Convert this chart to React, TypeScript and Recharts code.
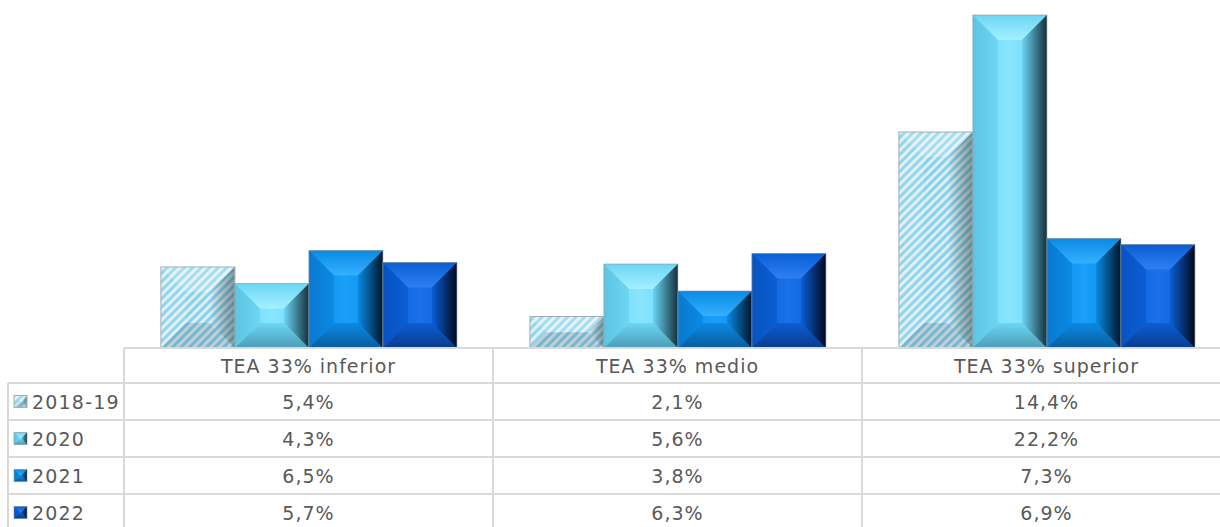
import React from 'react';
import { BarChart, Bar, XAxis, YAxis } from 'recharts';

const categories = ['TEA 33% inferior', 'TEA 33% medio', 'TEA 33% superior'];
const seriesNames = ['2018-19', '2020', '2021', '2022'];
const values2018 = [5.4, 2.1, 14.4];
const values2020 = [4.3, 5.6, 22.2];
const values2021 = [6.5, 3.8, 7.3];
const values2022 = [5.7, 6.3, 6.9];
const seriesValues = [values2018, values2020, values2021, values2022];

const data = categories.map((name, i) => ({
  name,
  s0: values2018[i],
  s1: values2020[i],
  s2: values2021[i],
  s3: values2022[i],
}));

// layout
const CHART_W = 1232;
const CHART_H = 540;
const LEFT = 124;
const RIGHT = 1;
const TOP = 15;
const PLOT_BOTTOM = 348;
const COL_W = (CHART_W - LEFT - RIGHT) / categories.length;
const ROW_LINES = [348, 383, 420, 457, 494, 531];
const LEGEND_X = 8;
const GRID = '#d9d9d9';
const TEXT = '#595959';
const FONT = '"DejaVu Sans", Verdana, sans-serif';

const palettes = [
  { face: '#7fd8f4', mid: '#9ae4f8', light: '#b8f0ff', left: '#a8e4f4', bottom: '#6aa8bc', dark: '#2a4a58' },
  { face: '#6cd6f4', mid: '#88e6ff', light: '#a4f0ff', left: '#5ec4e2', bottom: '#4c9cb4', dark: '#15303c' },
  { face: '#0a8ae4', mid: '#1aa0fa', light: '#35b0ff', left: '#0a78d0', bottom: '#0a5c9e', dark: '#001628' },
  { face: '#0a5ed4', mid: '#1a70e8', light: '#2e80f2', left: '#0852c0', bottom: '#0a3c8e', dark: '#00081c' },
];

const fmt = (v: number) => v.toFixed(1).replace('.', ',') + '%';

function Defs() {
  return (
    <defs>
      <pattern id="hatch" width="6" height="6" patternUnits="userSpaceOnUse" patternTransform="rotate(45)">
        <rect x="0" y="0" width="6" height="6" fill="#e4ecef" />
        <rect x="0" y="0" width="3" height="6" fill="#7fd4f0" />
      </pattern>
      {palettes.map((p, i) => (
        <React.Fragment key={i}>
          <linearGradient id={`face${i}`} x1="0" y1="0" x2="1" y2="0">
            <stop offset="0" stopColor={p.face} />
            <stop offset="0.5" stopColor={p.mid} />
            <stop offset="1" stopColor={p.face} />
          </linearGradient>
          <linearGradient id={`top${i}`} x1="0" y1="0" x2="0" y2="1">
            <stop offset="0" stopColor={p.face} />
            <stop offset="1" stopColor={p.light} />
          </linearGradient>
          <linearGradient id={`bot${i}`} x1="0" y1="0" x2="0" y2="1">
            <stop offset="0" stopColor={p.face} />
            <stop offset="1" stopColor={p.bottom} />
          </linearGradient>
          <linearGradient id={`right${i}`} x1="0" y1="0" x2="1" y2="0">
            <stop offset="0" stopColor={p.face} />
            <stop offset="1" stopColor={p.dark} />
          </linearGradient>
          <linearGradient id={`left${i}`} x1="0" y1="0" x2="1" y2="0">
            <stop offset="0" stopColor={p.left} />
            <stop offset="1" stopColor={p.face} />
          </linearGradient>
        </React.Fragment>
      ))}
      <linearGradient id="hRight" x1="0" y1="0" x2="1" y2="0">
        <stop offset="0" stopColor="#000" stopOpacity={0} />
        <stop offset="1" stopColor="#233" stopOpacity={0.45} />
      </linearGradient>
    </defs>
  );
}

function Bevel({ x, y, width, height, idx, depth = 25 }: any) {
  if (!width || !height || height <= 0) return null;
  const d = Math.min(depth, width / 2, height / 2);
  const x2 = x + width;
  const y2 = y + height;
  const top = `${x},${y} ${x2},${y} ${x2 - d},${y + d} ${x + d},${y + d}`;
  const bot = `${x},${y2} ${x2},${y2} ${x2 - d},${y2 - d} ${x + d},${y2 - d}`;
  const left = `${x},${y} ${x + d},${y + d} ${x + d},${y2 - d} ${x},${y2}`;
  const right = `${x2},${y} ${x2 - d},${y + d} ${x2 - d},${y2 - d} ${x2},${y2}`;
  if (idx === 0) {
    return (
      <g>
        <rect x={x} y={y} width={width} height={height} fill="url(#hatch)" />
        <polygon points={top} fill="#fff" fillOpacity={0.25} />
        <polygon points={left} fill="#fff" fillOpacity={0.1} />
        <polygon points={bot} fill="#345" fillOpacity={0.18} />
        <polygon points={right} fill="url(#hRight)" />
        <rect x={x} y={y} width={width} height={height} fill="none" stroke="#a3adb2" strokeWidth={1} />
      </g>
    );
  }
  return (
    <g>
      <rect x={x} y={y} width={width} height={height} fill={`url(#face${idx})`} />
      <polygon points={top} fill={`url(#top${idx})`} />
      <polygon points={left} fill={`url(#left${idx})`} />
      <polygon points={bot} fill={`url(#bot${idx})`} />
      <polygon points={right} fill={`url(#right${idx})`} />
      <rect x={x} y={y} width={width} height={height} fill="none" stroke="#8a979e" strokeOpacity={0.6} strokeWidth={1} />
    </g>
  );
}

function TableColumn(props: any) {
  const { x, index, payload } = props;
  const x0 = x - COL_W / 2;
  const x1 = x + COL_W / 2;
  const last = ROW_LINES[ROW_LINES.length - 1];
  return (
    <g fontFamily={FONT} fontSize={19} fill={TEXT} letterSpacing={1}>
      {ROW_LINES.slice(0, -1).map((ly) => (
        <line key={ly} x1={x0} x2={x1} y1={ly} y2={ly} stroke={GRID} strokeWidth={2} />
      ))}
      <line x1={x0} x2={x0} y1={PLOT_BOTTOM} y2={last} stroke={GRID} strokeWidth={2} />
      <text x={x} y={(ROW_LINES[0] + ROW_LINES[1]) / 2} textAnchor="middle" dominantBaseline="central">
        {payload.value}
      </text>
      {seriesValues.map((vals, s) => (
        <text
          key={s}
          x={x}
          y={(ROW_LINES[s + 1] + ROW_LINES[s + 2]) / 2}
          textAnchor="middle"
          dominantBaseline="central"
        >
          {fmt(vals[index])}
        </text>
      ))}
      {index === 0 && (
        <g>
          {ROW_LINES.slice(1, -1).map((ly) => (
            <line key={ly} x1={LEGEND_X} x2={x0} y1={ly} y2={ly} stroke={GRID} strokeWidth={2} />
          ))}
          <line x1={LEGEND_X} x2={LEGEND_X} y1={ROW_LINES[1]} y2={last} stroke={GRID} strokeWidth={2} />
          {seriesNames.map((n, s) => {
            const cy = (ROW_LINES[s + 1] + ROW_LINES[s + 2]) / 2;
            return (
              <g key={n}>
                <Bevel x={14} y={cy - 6} width={13} height={12} idx={s} depth={6} />
                <text x={32} y={cy} dominantBaseline="central" letterSpacing={1.2}>
                  {n}
                </text>
              </g>
            );
          })}
        </g>
      )}
    </g>
  );
}

export default function App() {
  return (
    <div style={{ width: 1220, height: 527, overflow: 'hidden', background: '#fff' }}>
      <style>{'body{margin:0}'}</style>
      <BarChart
        width={CHART_W}
        height={CHART_H}
        data={data}
        margin={{ top: TOP, right: RIGHT, bottom: 0, left: LEFT }}
        barCategoryGap="10%"
        barGap={0}
      >
        <Defs />
        <XAxis
          dataKey="name"
          axisLine={false}
          tickLine={false}
          height={CHART_H - PLOT_BOTTOM}
          interval={0}
          tick={(p: any) => <TableColumn {...p} />}
        />
        <YAxis hide domain={[0, 22.2]} />
        {seriesNames.map((n, i) => (
          <Bar
            key={n}
            dataKey={`s${i}`}
            name={n}
            isAnimationActive={false}
            shape={(p: any) => <Bevel {...p} idx={i} />}
          />
        ))}
      </BarChart>
    </div>
  );
}
